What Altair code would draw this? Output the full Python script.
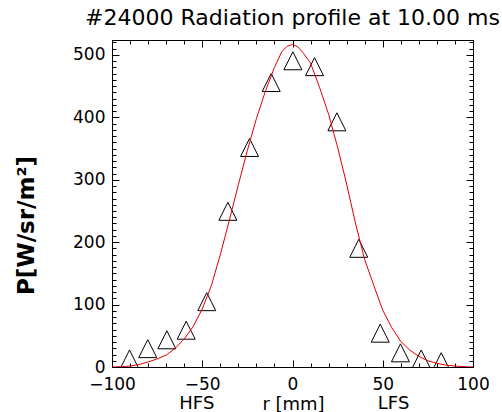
import altair as alt
import pandas as pd

# measured points (triangles)
meas_r = [-90.3, -80.2, -69.6, -58.9, -47.5, -35.8, -23.8, -11.8, 0.2, 12.2, 24.6, 36.7, 48.6, 59.8, 71.3, 82.4]
meas_p = [12.8, 29.4, 43.6, 59.0, 104.7, 249.5, 351.8, 455.9, 490.7, 481.3, 392.9, 190.2, 54.2, 22.7, 12.8, 8.5]

# fitted profile (red curve)
curve_r = [-100, -95, -90, -85, -80, -75, -70, -65, -60, -55, -50, -45, -40, -35, -30, -25, -20, -15, -10, -6, -3, 0,
           3, 6, 10, 15, 20, 25, 30, 35, 40, 45, 50, 55, 60, 65, 70, 75, 80, 85, 90, 95, 100]
curve_p = [0, 0.5, 1.5, 4, 8, 13, 19, 30, 45, 65, 93, 130, 180, 235, 292, 347, 398, 442, 480, 505, 514, 517,
           513, 503, 487, 448, 405, 352, 293, 229, 172, 131, 91, 63, 41, 27, 17, 10, 6, 3, 1.5, 0.5, 0]

x_major = [-100, -50, 0, 50, 100]
x_minor = list(range(-100, 101, 10))
y_major = [0, 100, 200, 300, 400, 500]
y_minor = list(range(0, 521, 10))

side_labels = ["HFS", "LFS"]
side_pos = [-53, 56]

title_text = "#24000 Radiation profile at 10.00 ms"
x_title = "r [mm]"
y_title = "P[W/sr/m²]"

meas = pd.DataFrame({"r": meas_r, "p": meas_p})
curve = pd.DataFrame({"r": curve_r, "p": curve_p})
sides = pd.DataFrame({"label": side_labels, "r": side_pos})

FONT = "DejaVu Sans"
xs = alt.Scale(domain=[-100, 100], nice=False, zero=False)
ys = alt.Scale(domain=[0, 524], nice=False, zero=False)


def tick_axis(orient, values, size):
    return alt.Axis(orient=orient, values=values, labels=False, domain=False, grid=False,
                    ticks=True, tickSize=size, offset=-size, tickColor="black", tickWidth=1,
                    title=None)


line = alt.Chart(curve).mark_line(color="#e00000", strokeWidth=1, clip=True).encode(
    x=alt.X("r:Q", scale=xs, axis=alt.Axis(
        orient="bottom", values=x_major, ticks=False, tickSize=0, domain=False, grid=False,
        labelFlush=False, labelOverlap=False,
        labelFont=FONT, labelFontSize=17, labelColor="black", labelPadding=9,
        title=x_title, titleFont=FONT, titleFontSize=18, titleFontWeight="normal",
        titleColor="black", titleX=181, titleY=42, titleBaseline="alphabetic")),
    y=alt.Y("p:Q", scale=ys, axis=alt.Axis(
        orient="left", values=y_major, ticks=False, tickSize=0, domain=False, grid=False,
        labelFlush=False, labelOverlap=False,
        labelFont=FONT, labelFontSize=17, labelColor="black", labelPadding=7,
        title=y_title, titleFont=FONT, titleFontSize=23, titleFontWeight="bold",
        titleColor="black", titleAngle=270, titleX=-79, titleY=185,
        titleBaseline="alphabetic", titleAlign="center")),
)

pts = alt.Chart(meas).mark_point(
    shape="M0,-1L1,1L-1,1Z", size=324, filled=False, color="black", strokeWidth=1,
    opacity=1, clip=True).encode(
    x=alt.X("r:Q", scale=xs, axis=tick_axis("bottom", x_major, 7)),
    y=alt.Y("p:Q", scale=ys, axis=tick_axis("left", y_major, 7)),
)

l3 = alt.Chart(curve).mark_point(opacity=0).encode(
    x=alt.X("r:Q", scale=xs, axis=tick_axis("bottom", x_minor, 4)),
    y=alt.Y("p:Q", scale=ys, axis=tick_axis("left", y_minor, 4)),
)
l4 = alt.Chart(curve).mark_point(opacity=0).encode(
    x=alt.X("r:Q", scale=xs, axis=tick_axis("top", x_major, 7)),
    y=alt.Y("p:Q", scale=ys, axis=tick_axis("right", y_major, 7)),
)
l5 = alt.Chart(curve).mark_point(opacity=0).encode(
    x=alt.X("r:Q", scale=xs, axis=tick_axis("top", x_minor, 4)),
    y=alt.Y("p:Q", scale=ys, axis=tick_axis("right", y_minor, 4)),
)

side_text = alt.Chart(sides).mark_text(
    font=FONT, fontSize=18, color="black", baseline="alphabetic", align="center").encode(
    x=alt.X("r:Q", scale=xs, axis=None),
    y=alt.value(369),
    text="label:N",
)

chart = alt.layer(pts, line, l3, l4, l5, side_text).resolve_axis(
    x="independent", y="independent"
).properties(
    width=361, height=327,
    autosize=alt.AutoSizeParams(type="none"),
    padding={"left": 112, "top": 40, "right": 29, "bottom": 45},
    title=alt.Title(title_text, font=FONT, fontSize=22, fontWeight="normal",
                    color="black", anchor="middle", offset=10, baseline="alphabetic", dy=17),
    background="white",
).configure_view(stroke="black", strokeWidth=1)

chart.save("out.html", embed_options={"renderer": "svg", "actions": False})
